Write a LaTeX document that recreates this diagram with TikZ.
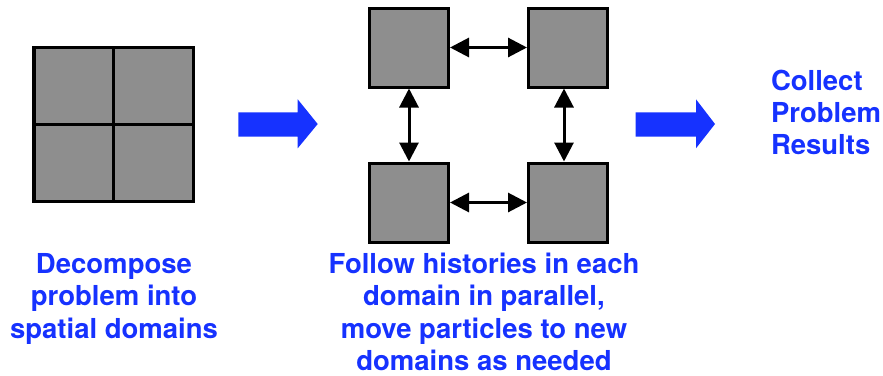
\documentclass[tikz,border=0pt]{standalone}
\usepackage{fontspec}
\setmainfont{TeX Gyre Heros}
\usetikzlibrary{arrows.meta}
\definecolor{lblue}{RGB}{22,50,255}
\definecolor{boxgray}{RGB}{142,142,142}
\tikzset{
  gridcell/.style={draw=black, fill=boxgray, line width=3.5pt, inner sep=0pt, minimum width=79.75pt, minimum height=77pt},
  domainbox/.style={draw=black, fill=boxgray, line width=3pt, inner sep=0pt, minimum size=79pt},
  linkarrow/.style={line width=3pt, {Triangle[length=19pt,width=19pt]}-{Triangle[length=19pt,width=19pt]}},
  blockarrow/.style={fill=lblue, draw=none},
  bluetext/.style={text=lblue, font=\bfseries\fontsize{27.5}{32.3}\selectfont, inner sep=0pt, outer sep=0pt}
}
\begin{document}
\begin{tikzpicture}[x=1pt,y=-1pt]
\useasboundingbox (0,0) rectangle (883,375);
% left decomposition grid
\node[gridcell] (c11) at (73.9,86) {};
\node[gridcell] (c12) at (153.6,86) {};
\node[gridcell] (c21) at (73.9,163) {};
\node[gridcell] (c22) at (153.6,163) {};
% block arrows
\fill[blockarrow] (238.3,112.3) -- (297.7,112.3) -- (297.7,99.3) -- (317.7,124) -- (297.7,148.3) -- (297.7,136.7) -- (238.3,136.7) -- cycle;
\fill[blockarrow] (635.7,112.3) -- (696,112.3) -- (696,99.3) -- (715,124) -- (696,148.3) -- (696,136.7) -- (635.7,136.7) -- cycle;
% domains
\node[domainbox] (tl) at (409,47.5) {};
\node[domainbox] (tr) at (568,47.5) {};
\node[domainbox] (bl) at (409,202.5) {};
\node[domainbox] (br) at (568,202.5) {};
\draw[linkarrow] (tl.east) -- (tr.west);
\draw[linkarrow] (bl.east) -- (br.west);
\draw[linkarrow] (tl.south) -- (bl.north);
\draw[linkarrow] ([xshift=-4pt]tr.south) -- ([xshift=-4pt]br.north);
% labels
\node[bluetext, align=center, anchor=north] (t1) at (114,253.5) {Decompose\\problem into\\spatial domains};
\node[bluetext, align=center, anchor=north] (t2) at (484,253) {Follow histories in each\\domain in parallel,\\move particles to new\\domains as needed};
\node[bluetext, align=left, anchor=north west] (t3) at (771,70) {Collect\\Problem\\Results};
\end{tikzpicture}
\end{document}
